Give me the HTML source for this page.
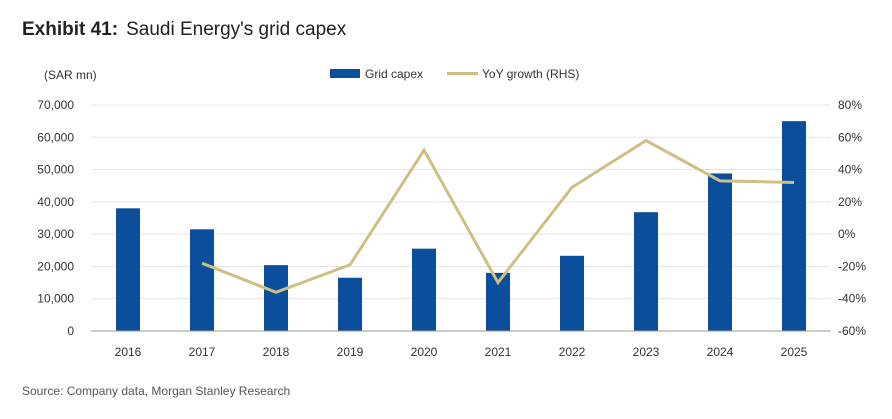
<!DOCTYPE html>
<html><head><meta charset="utf-8"><style>
body{margin:0;background:#fff;width:892px;height:414px;overflow:hidden;font-family:"Liberation Sans",sans-serif}
</style></head><body>
<svg width="892" height="414" xmlns="http://www.w3.org/2000/svg">
<text x="22" y="35" font-size="19" fill="#222"><tspan font-weight="bold">Exhibit 41:</tspan><tspan dx="8">Saudi Energy's grid capex</tspan></text>
<text x="44" y="79" font-size="12" fill="#333">(SAR mn)</text>
<rect x="330" y="69" width="30" height="9" fill="#0b4f9c"/>
<text x="365" y="78" font-size="12" fill="#333">Grid capex</text>
<line x1="447" y1="73.5" x2="478" y2="73.5" stroke="#cfbf83" stroke-width="3"/>
<text x="482" y="78" font-size="12" fill="#333">YoY growth (RHS)</text>
<g id="grid"></g><g id="bars"></g><g id="line"></g><g id="axes"></g>
<text x="22" y="395" font-size="12" fill="#555">Source: Company data, Morgan Stanley Research</text>
</svg>
<script>
const categories=["2016","2017","2018","2019","2020","2021","2022","2023","2024","2025"];
const capex=[38000,31500,20400,16500,25500,18000,23300,36800,48800,65000];
const growth=[null,-18,-36,-19,52,-30,29,58,33,32];
const leftTicks=[0,10000,20000,30000,40000,50000,60000,70000];
const rightTicks=[-60,-40,-20,0,20,40,60,80];
const ns="http://www.w3.org/2000/svg";
const X0=91,X1=831,Ytop=105,Ybot=331;
const yL=v=>Ybot-(v/70000)*(Ybot-Ytop);
const yR=v=>Ybot-((v+60)/140)*(Ybot-Ytop);
const xC=i=>128+i*74;
function mk(t,a,p){const e=document.createElementNS(ns,t);for(const k in a)e.setAttribute(k,a[k]);p.appendChild(e);return e;}
const G=document.getElementById('grid'),B=document.getElementById('bars'),L=document.getElementById('line'),A=document.getElementById('axes');
leftTicks.forEach(v=>{
 if(v>0){const g=mk('line',{x1:X0,x2:X1,y1:yL(v),y2:yL(v),stroke:'#e3e3e3','stroke-width':1},G);
 
 }
 const t=mk('text',{x:74,y:yL(v)+4,'font-size':12,fill:'#333','text-anchor':'end'},A);t.textContent=v.toLocaleString('en-US');
 
 
});
rightTicks.forEach(v=>{
 const t=mk('text',{x:838,y:yR(v)+4,'font-size':12,fill:'#333'},A);t.textContent=v+'%';
 
 
});
const ax=mk('line',{x1:X0,x2:X1,y1:Ybot,y2:Ybot,stroke:'#999','stroke-width':1},A);


categories.forEach((c,i)=>{
 const r=mk('rect',{x:xC(i)-12,y:yL(capex[i]),width:24,height:Ybot-yL(capex[i]),fill:'#0b4f9c'},B);
 
 
 const t=mk('text',{x:xC(i),y:356,'font-size':12,fill:'#333','text-anchor':'middle'},A);t.textContent=c;
 
 
});
let pts=[];growth.forEach((g,i)=>{if(g!==null)pts.push(xC(i)+','+yR(g));});
const pl=mk('polyline',{points:pts.join(' '),fill:'none',stroke:'#cfbf83','stroke-width':3,'stroke-linejoin':'miter'},L);


</script>
</body></html>
